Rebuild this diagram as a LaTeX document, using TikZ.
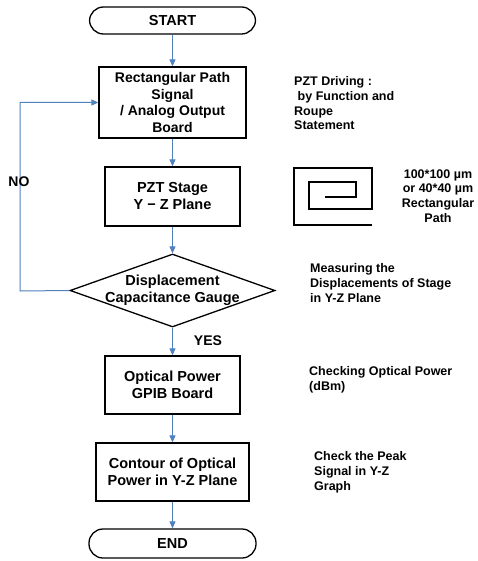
\documentclass[tikz,border=0pt]{standalone}
\usepackage{fontspec}
\setmainfont{Liberation Sans}
\usetikzlibrary{arrows.meta,shapes.geometric}
\definecolor{flowblue}{RGB}{79,129,189}
\begin{document}
\begin{tikzpicture}[x=1pt,y=-1pt,
  box/.style={draw,line width=1.3pt,align=center,inner sep=0pt,font=\bfseries\fontsize{14.5}{17}\selectfont},
  term/.style={box,rounded corners=14pt},
  note/.style={align=left,inner sep=0pt,anchor=north west,font=\bfseries\fontsize{12.5}{14.7}\selectfont},
  flow/.style={draw=flowblue,line width=1pt,-{Triangle[length=7pt,width=6pt]}},
  lbl/.style={font=\bfseries\fontsize{14}{17}\selectfont,inner sep=0pt}]
\useasboundingbox[fill=white] (0,0) rectangle (478,561);

\node[term,minimum width=166pt,minimum height=27pt] (start) at (172.5,20.5) {START};
\node[box,minimum width=147pt,minimum height=71pt,font=\bfseries\fontsize{14}{16.7}\selectfont] (b1) at (172.5,102.5) {Rectangular Path\\Signal\\/ Analog Output\\Board};
\node[box,minimum width=135pt,minimum height=59pt] (b2) at (172.5,196.5) {PZT Stage\\Y − Z Plane};
\node[draw,diamond,line width=1.3pt,inner sep=0pt,minimum width=205pt,minimum height=73pt] (dec) at (172.5,290.5) {};
\node[font=\bfseries\fontsize{14.5}{17}\selectfont,align=center,inner sep=0pt] (dectext) at (dec.center) {Displacement\\Capacitance Gauge};
\node[box,minimum width=135pt,minimum height=58pt] (opt) at (172.5,385) {Optical Power\\GPIB Board};
\node[box,minimum width=153pt,minimum height=58pt] (cont) at (172.5,472) {Contour of Optical\\Power in Y-Z Plane};
\node[term,minimum width=167pt,minimum height=29pt] (end) at (172.5,543.5) {END};

\draw[flow] (start) -- (b1);
\draw[flow] (b1) -- (b2);
\draw[flow] (b2) -- (dec);
\draw[flow] (dec) -- (opt);
\draw[flow] (opt) -- (cont);
\draw[flow] (cont) -- (end);
\coordinate (noturn) at (20,291);
\draw[flow] (dec.west) -- (noturn) |- (b1.west);

\node[lbl] (yes) at (208,341) {YES};
\node[lbl] (no) at (19,182) {NO};

\node[note] (n1) at (294,76.5) {PZT Driving :\\\hspace{0.28em}by Function and\\Roupe\\Statement};
\draw[line width=1.3pt] (372,225) -- (294,225) -- (294,168) -- (372,168) -- (372,209) -- (309,209) -- (309,182) -- (356,182) -- (356,197) -- (325,197);
\node[note,anchor=center,align=center] (n2) at (438,196) {100*100 µm\\or 40*40 µm\\Rectangular\\Path};
\node[note] (n3) at (310,263.5) {Measuring the\\Displacements of Stage\\in Y-Z Plane};
\node[note] (n4) at (309,366.5) {Checking Optical Power\\(dBm)};
\node[note] (n5) at (314,451.5) {Check the Peak\\Signal in Y-Z\\Graph};
\end{tikzpicture}
\end{document}
